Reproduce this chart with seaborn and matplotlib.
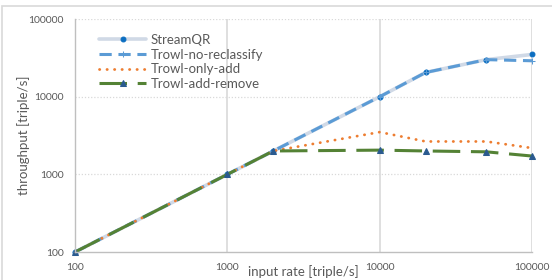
import numpy as np
import pandas as pd
import seaborn as sns
import matplotlib.pyplot as plt
from matplotlib.patches import Rectangle
from matplotlib.ticker import FixedLocator, NullLocator, FixedFormatter

# input rates [triple/s]
rates = [100, 1000, 2000, 10000, 20000, 50000, 100000]

# throughput [triple/s]
stream_qr = [100, 1000, 2000, 10000, 20500, 30000, 35000]
no_reclassify = [100, 1000, 2000, 10000, 20500, 30000, 29000]
only_add = [100, 1000, 2000, 3500, 2650, 2650, 2180]
add_remove = [100, 1000, 2000, 2050, 2000, 1950, 1720]

ticks = [100, 1000, 10000, 100000]
tick_labels = ["100", "1000", "10000", "100000"]

sns.set_style("white")
plt.rcParams["font.family"] = ["Lato", "DejaVu Sans"]

fig = plt.figure(figsize=(5.52, 2.8), dpi=100)
ax = fig.add_axes([0.136, 0.1, 0.828, 0.832])

# outer chart border (Excel style)
fig.patches.append(Rectangle((2 / 552, -0.1), 1.2, (280 - 6) / 280 + 0.1,
                             transform=fig.transFigure, fill=False,
                             edgecolor="#d9d9d9", linewidth=1.2))

sns.lineplot(x=rates, y=stream_qr, ax=ax, color="#d0d9e6", linewidth=2.6,
             marker="o", markersize=3.5, markerfacecolor="#0b6ec1",
             markeredgecolor="#0b6ec1", label="StreamQR", clip_on=False)
sns.lineplot(x=rates, y=no_reclassify, ax=ax, color="#5b9bd5", linewidth=2.2,
             marker="+", markersize=4, markeredgecolor="#5b9bd5",
             dashes=(4, 2.2), label="Trowl-no-reclassify", clip_on=False)
sns.lineplot(x=rates, y=only_add, ax=ax, color="#ed7d31", linewidth=2.0,
             dashes=(0.1, 2.6), dash_capstyle="round",
             label="Trowl-only-add", clip_on=False)
sns.lineplot(x=rates, y=add_remove, ax=ax, color="#548235", linewidth=2.2,
             marker="^", markersize=3.8, markerfacecolor="#2a5a8f",
             markeredgecolor="#2a5a8f", dashes=(9, 3.5),
             label="Trowl-add-remove", clip_on=False)

ax.set_xscale("log")
ax.set_yscale("log")
ax.set_xlim(100, 100000)
ax.set_ylim(100, 100000)

ax.xaxis.set_major_locator(FixedLocator(ticks))
ax.xaxis.set_major_formatter(FixedFormatter(tick_labels))
ax.yaxis.set_major_locator(FixedLocator(ticks))
ax.yaxis.set_major_formatter(FixedFormatter(tick_labels))
ax.xaxis.set_minor_locator(NullLocator())
ax.yaxis.set_minor_locator(NullLocator())

ax.tick_params(axis="both", length=0, labelsize=7.5, colors="#595959")
ax.tick_params(axis="x", pad=8)
ax.tick_params(axis="y", pad=8)

ax.grid(False)
for t in ticks[1:]:
    ax.axvline(t, color="#d9d9d9", linewidth=1.2, zorder=0)
    ax.axhline(t, color="#d9d9d9", linewidth=0.9, linestyle=(0, (1, 1.5)), zorder=0)

for side in ["top", "right"]:
    ax.spines[side].set_visible(False)
for side in ["left", "bottom"]:
    ax.spines[side].set_color("#bfbfbf")
    ax.spines[side].set_linewidth(1.0)

ax.set_xlabel("input rate [triple/s]", fontsize=9.5, color="#595959", labelpad=-5)
ax.set_ylabel("throughput [triple/s]", fontsize=9.5, color="#595959", labelpad=-1)

leg = ax.legend(loc="upper left", bbox_to_anchor=(0.035, 0.97), frameon=False,
                fontsize=9.5, handlelength=3.6, handletextpad=0.3,
                labelspacing=0.2, borderaxespad=0.2)
for txt in leg.get_texts():
    txt.set_color("#595959")

fig.savefig("out.png", dpi=100)
